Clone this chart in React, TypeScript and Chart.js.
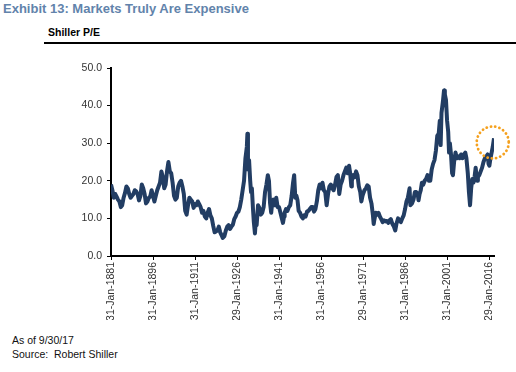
import React, { useEffect, useRef } from "react";
import { Chart, registerables } from "chart.js";

Chart.register(...registerables);

const years = [
  1881.0, 1881.5, 1882.0, 1882.5, 1883.0, 1883.5, 1884.0, 1884.5, 1885.0, 1885.5,
  1886.0, 1886.5, 1887.0, 1887.5, 1888.0, 1888.5, 1889.0, 1889.5, 1890.0, 1890.5,
  1891.0, 1891.5, 1892.0, 1892.5, 1893.0, 1893.5, 1894.0, 1894.5, 1895.0, 1895.5,
  1896.0, 1896.5, 1897.0, 1897.5, 1898.0, 1898.5, 1899.0, 1899.5, 1900.0, 1900.5,
  1901.0, 1901.5, 1902.0, 1902.5, 1903.0, 1903.5, 1904.0, 1904.5, 1905.0, 1905.5,
  1906.0, 1906.5, 1907.0, 1907.5, 1908.0, 1908.5, 1909.0, 1909.5, 1910.0, 1910.5,
  1911.0, 1911.5, 1912.0, 1912.5, 1913.0, 1913.5, 1914.0, 1914.5, 1915.0, 1915.5,
  1916.0, 1916.5, 1917.0, 1917.5, 1918.0, 1918.5, 1919.0, 1919.5, 1920.0, 1920.5,
  1920.9, 1921.5, 1922.0, 1922.5, 1923.0, 1923.5, 1924.0, 1924.5, 1925.0, 1925.5,
  1926.0, 1926.5, 1927.0, 1927.5, 1928.0, 1928.5, 1929.0, 1929.5, 1929.7, 1929.9,
  1930.3, 1930.7, 1931.0, 1931.3, 1931.7, 1932.0, 1932.4, 1932.7, 1933.0, 1933.5,
  1934.0, 1934.5, 1935.0, 1935.5, 1936.0, 1936.5, 1937.0, 1937.4, 1937.8, 1938.2,
  1938.6, 1939.0, 1939.5, 1940.0, 1940.5, 1941.0, 1941.5, 1942.0, 1942.4, 1942.8,
  1943.0, 1943.5, 1944.0, 1944.5, 1945.0, 1945.5, 1946.0, 1946.4, 1946.8, 1947.2,
  1947.6, 1948.0, 1948.5, 1949.0, 1949.5, 1950.0, 1950.5, 1951.0, 1951.5, 1952.0,
  1952.5, 1953.0, 1953.5, 1954.0, 1954.5, 1955.0, 1955.5, 1956.0, 1956.5, 1957.0,
  1957.5, 1958.0, 1958.5, 1959.0, 1959.5, 1960.0, 1960.5, 1961.0, 1961.5, 1962.0,
  1962.5, 1963.0, 1963.5, 1964.0, 1964.5, 1965.0, 1965.5, 1966.0, 1966.4, 1966.8,
  1967.0, 1967.5, 1968.0, 1968.5, 1969.0, 1969.5, 1970.0, 1970.4, 1970.8, 1971.0,
  1971.5, 1972.0, 1972.5, 1973.0, 1973.5, 1974.0, 1974.5, 1974.8, 1975.0, 1975.5,
  1976.0, 1976.5, 1977.0, 1977.5, 1978.0, 1978.5, 1979.0, 1979.5, 1980.0, 1980.5,
  1980.9, 1981.5, 1982.0, 1982.5, 1982.9, 1983.5, 1984.0, 1984.5, 1985.0, 1985.5,
  1986.0, 1986.5, 1987.0, 1987.6, 1987.9, 1988.5, 1989.0, 1989.5, 1990.0, 1990.5,
  1990.8, 1991.2, 1991.6, 1992.0, 1992.5, 1993.0, 1993.5, 1994.0, 1994.5, 1995.0,
  1995.5, 1996.0, 1996.5, 1997.0, 1997.5, 1998.0, 1998.4, 1998.7, 1999.0, 1999.5,
  1999.9, 2000.2, 2000.6, 2001.0, 2001.4, 2001.7, 2002.0, 2002.4, 2002.8, 2003.1,
  2003.5, 2004.0, 2004.5, 2005.0, 2005.5, 2006.0, 2006.5, 2007.0, 2007.5, 2007.9,
  2008.4, 2008.8, 2009.2, 2009.6, 2010.0, 2010.4, 2010.8, 2011.2, 2011.7, 2012.0,
  2012.5, 2013.0, 2013.5, 2014.0, 2014.5, 2015.0, 2015.5, 2015.8, 2016.1, 2016.5,
  2016.9, 2017.3, 2017.75,
];

const cape = [
  19.0, 17.5, 15.5, 16.5, 15.8, 15.0, 14.5, 13.0, 13.5, 15.5,
  16.8, 18.5, 18.0, 16.5, 15.5, 16.0, 16.5, 17.5, 17.2, 16.5,
  14.8, 16.0, 19.0, 18.0, 16.5, 14.0, 14.5, 15.5, 15.8, 17.5,
  16.0, 14.5, 16.0, 17.5, 18.5, 19.5, 22.5, 21.0, 18.0, 19.0,
  22.5, 25.0, 22.5, 22.0, 19.5, 16.0, 15.0, 15.5, 18.5, 19.5,
  20.0, 18.5, 16.5, 12.0, 11.0, 13.5, 15.5, 15.0, 14.5, 12.8,
  13.8, 13.5, 14.5, 13.8, 13.0, 11.5, 12.0, 10.5, 10.0, 11.5,
  12.5, 10.8, 10.0, 8.0, 6.3, 6.5, 6.8, 7.8, 6.3, 5.5,
  4.8, 5.3, 6.8, 7.8, 8.2, 7.2, 7.8, 8.3, 9.8, 10.5,
  11.5, 11.8, 13.0, 15.0, 17.5, 20.0, 26.0, 29.0, 32.5, 23.0,
  25.5, 20.0, 17.0, 18.0, 12.5, 9.0, 6.0, 9.5, 8.2, 13.5,
  12.8, 11.0, 11.5, 13.0, 17.0, 19.0, 21.5, 20.0, 14.0, 11.5,
  14.5, 15.0, 13.5, 15.5, 13.0, 13.0, 11.5, 10.0, 8.8, 10.5,
  11.5, 12.5, 12.0, 13.0, 13.5, 16.0, 19.5, 21.5, 15.5, 16.0,
  14.8, 12.0, 11.5, 10.5, 10.0, 10.8, 10.5, 11.8, 12.0, 12.5,
  13.0, 13.0, 11.8, 12.5, 14.5, 17.5, 19.0, 18.0, 19.5, 17.5,
  17.0, 13.5, 16.5, 18.5, 19.0, 18.0, 17.5, 19.0, 21.0, 21.5,
  16.5, 19.0, 20.0, 21.5, 22.5, 23.5, 22.0, 24.0, 22.0, 18.5,
  20.0, 21.5, 21.0, 22.5, 21.5, 18.5, 17.0, 14.5, 16.0, 16.5,
  17.5, 18.0, 18.8, 18.5, 15.5, 14.0, 11.0, 8.5, 9.5, 11.5,
  11.0, 11.5, 10.5, 9.8, 9.0, 9.5, 9.2, 9.3, 8.8, 9.5,
  9.8, 8.5, 7.8, 6.8, 8.5, 10.0, 9.5, 9.0, 10.0, 10.8,
  12.5, 14.5, 15.5, 18.0, 13.5, 14.0, 15.0, 17.0, 17.0, 16.5,
  14.8, 16.5, 17.5, 19.5, 19.0, 20.0, 20.5, 21.5, 20.0, 20.0,
  23.0, 24.5, 25.5, 28.0, 32.0, 32.5, 36.0, 29.5, 38.0, 41.0,
  44.0, 43.0, 41.5, 36.0, 33.0, 27.5, 30.0, 27.0, 22.0, 21.5,
  25.0, 27.5, 26.0, 26.5, 26.0, 27.0, 26.0, 27.0, 27.5, 26.0,
  22.0, 17.0, 13.5, 18.0, 20.5, 19.5, 21.0, 23.5, 20.0, 21.0,
  21.5, 22.5, 23.5, 25.0, 26.0, 26.5, 27.0, 24.5, 24.0, 26.0,
  27.5, 29.0, 31.3,
];

const tickYears = [1881, 1896, 1911, 1926, 1941, 1956, 1971, 1986, 2001, 2016];
const tickLabels = [
  "31-Jan-1881", "31-Jan-1896", "31-Jan-1911", "29-Jan-1926", "31-Jan-1941",
  "31-Jan-1956", "29-Jan-1971", "31-Jan-1986", "31-Jan-2001", "29-Jan-2016",
];
const yTickValues = [0, 10, 20, 30, 40, 50];
const highlightX = [2017.3];
const highlightY = [30.2];

const FONT = "'Liberation Sans', Arial, sans-serif";

export default function App() {
  const ref = useRef<HTMLCanvasElement>(null);

  useEffect(() => {
    if (!ref.current) return;
    const circlePlugin = {
      id: "highlightCircle",
      afterDatasetsDraw(chart: any) {
        const { ctx, scales } = chart;
        ctx.save();
        for (let i = 0; i < highlightX.length; i++) {
          const cx = scales.x.getPixelForValue(highlightX[i]);
          const cy = scales.y.getPixelForValue(highlightY[i]);
          ctx.beginPath();
          ctx.setLineDash([0.1, 4.2]);
          ctx.lineCap = "round";
          ctx.lineWidth = 2.8;
          ctx.strokeStyle = "#f5a11e";
          ctx.arc(cx, cy, 16, 0, Math.PI * 2);
          ctx.stroke();
        }
        ctx.restore();
      },
    };

    const chart = new Chart(ref.current, {
      type: "line",
      data: {
        datasets: [
          {
            data: years.map((x, i) => ({ x, y: cape[i] })),
            borderColor: "#223d63",
            borderWidth: 4,
            pointRadius: 0,
            tension: 0,
            borderJoinStyle: "round",
          },
        ],
      },
      options: {
        animation: false,
        responsive: false,
        maintainAspectRatio: false,
        layout: { padding: { left: 0, right: 22, top: 13, bottom: 0 } },
        plugins: { legend: { display: false }, tooltip: { enabled: false } },
        scales: {
          x: {
            type: "linear",
            min: 1881,
            max: 2017.75,
            afterBuildTicks: (s: any) => {
              s.ticks = tickYears.map((v) => ({ value: v }));
            },
            afterFit: (s: any) => {
              s.height = 64;
            },
            ticks: {
              autoSkip: false,
              minRotation: 90,
              maxRotation: 90,
              padding: 2,
              color: "#333",
              font: { family: FONT, size: 10.5 },
              callback: (v: any) => {
                const i = tickYears.indexOf(Number(v));
                return i >= 0 ? tickLabels[i] : "";
              },
            },
            grid: { drawOnChartArea: false, tickLength: 4, color: "#000", lineWidth: 1 },
            border: { color: "#000", width: 2 },
          },
          y: {
            min: 0,
            max: 50,
            afterBuildTicks: (s: any) => {
              s.ticks = yTickValues.map((v) => ({ value: v }));
            },
            afterFit: (s: any) => {
              s.width = 111;
            },
            ticks: {
              padding: 5,
              color: "#333",
              font: { family: FONT, size: 10.5 },
              callback: (v: any) => Number(v).toFixed(1),
            },
            grid: { drawOnChartArea: false, tickLength: 4, color: "#000", lineWidth: 1 },
            border: { color: "#000", width: 2 },
          },
        },
      },
      plugins: [circlePlugin],
    } as any);
    return () => chart.destroy();
  }, []);

  return (
    <div
      style={{
        position: "fixed",
        left: 0,
        top: 0,
        width: 516,
        height: 372,
        background: "#fff",
        fontFamily: FONT,
        overflow: "hidden",
      }}
    >
      <div
        style={{
          position: "absolute",
          left: 3,
          top: 1,
          fontSize: 13,
          fontWeight: "bold",
          color: "#6283ab",
          whiteSpace: "nowrap",
        }}
      >
        Exhibit 13: Markets Truly Are Expensive
      </div>
      <div
        style={{
          position: "absolute",
          left: 48,
          top: 26,
          fontSize: 10.5,
          fontWeight: "bold",
          color: "#000",
          whiteSpace: "nowrap",
        }}
      >
        Shiller P/E
      </div>
      <div
        style={{
          position: "absolute",
          left: 44,
          top: 42,
          width: 472,
          height: 2,
          background: "#000",
        }}
      />
      <canvas
        ref={ref}
        width={516}
        height={265}
        style={{ position: "absolute", left: 0, top: 55, width: 516, height: 265 }}
      />
      <div
        style={{
          position: "absolute",
          left: 12,
          top: 333,
          fontSize: 10.5,
          lineHeight: "14px",
          color: "#111",
          whiteSpace: "nowrap",
        }}
      >
        <div>As of 9/30/17</div>
        <div>Source:&nbsp; Robert Shiller</div>
      </div>
    </div>
  );
}
